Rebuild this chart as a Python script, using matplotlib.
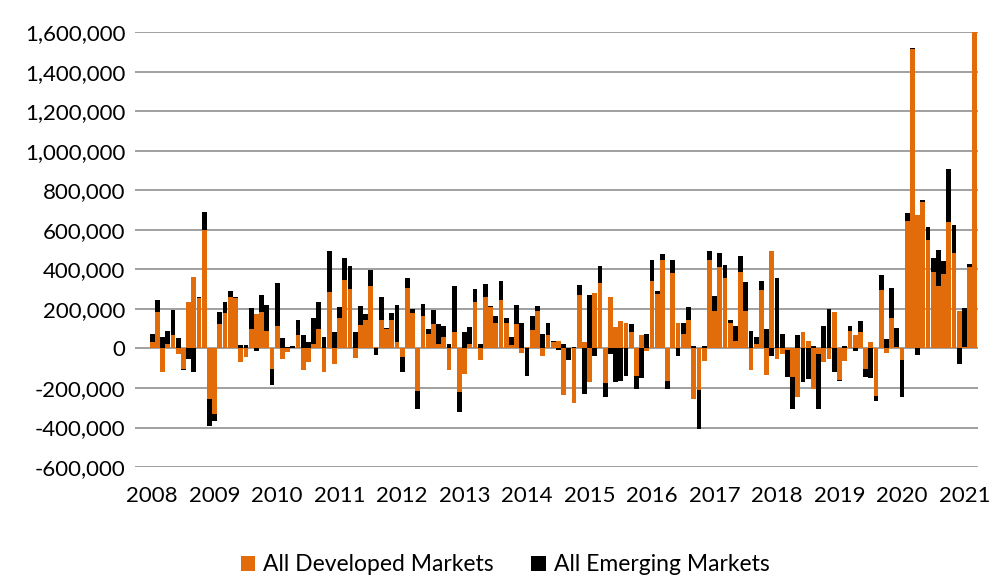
import numpy as np
import matplotlib
matplotlib.use('Agg')
import matplotlib.pyplot as plt
from matplotlib.ticker import FuncFormatter

# monthly flows, Jan 2008 .. Mar 2021 (thousands)
developed = [
    32, 184, -120, 24, 66, -27, -103, 235, 361, 255, 598, -255,
    -331, 125, 179, 260, 257, -69, -44, 100, 175, 184, 90, -103,
    113, -52, -18, 3, 66, -110, -70, 24, 100, -120, 285, -78,
    154, 345, 303, -47, 117, 142, 315, 5, 145, 100, 145, 32,
    -44, 307, 179, -213, 162, 74, 122, 24, 57, -111, 83, -221,
    -128, 24, 235, -56, 260, 209, 130, 243, 128, 20, 122, -22,
    5, 91, 192, -39, 66, 32, 40, -238, 0, -277, 273, 32,
    -170, 282, 331, -175, 260, 108, 138, 128, 83, -137, 66, -13,
    339, 277, 446, -167, 381, 128, 74, 145, -255, -209, -61, 446,
    192, 412, 356, 128, 37, 387, 192, -108, 24, 294, -133, 491,
    -52, -30, -10, -145, -246, 83, 40, -204, -30, -69, -52, 184,
    -159, -61, 88, 70, 83, -103, 34, -240, 297, -24, 154, 5,
    -57, 643, 1515, 673, 741, 547, 387, 316, 378, 640, 484, 192,
    5, 412, 1600]
emerging = [
    42, 59, 60, 64, 130, 55, -8, -52, -120, 5, 93, -135,
    -34, 59, 56, 30, 4, 15, 15, 105, -13, 84, 130, -84,
    218, 55, 8, 8, 80, 66, 35, 132, 135, 57, 206, 83,
    56, 113, 115, 83, 100, 34, 81, -35, 115, 5, 34, 186,
    -76, 49, 22, -93, 64, 22, 71, 98, 57, 24, 231, -98,
    83, 84, 68, 24, 64, 8, 32, 96, 27, 37, 96, 128,
    -137, 71, 25, 71, 62, 8, -7, 24, -60, 8, 49, -230,
    273, -39, 86, -71, -27, -170, -165, -140, 39, -68, -149, 74,
    111, 12, 30, -40, 69, -39, 54, 64, 10, -198, 10, 46,
    73, 71, 64, 17, 76, 79, 143, 88, 34, 46, 96, -40,
    356, 74, -135, -160, 66, -170, -154, 10, -275, 113, 201, -120,
    -8, 10, 25, -15, 54, -39, -149, -25, 73, 49, 152, 96,
    -189, 42, 7, -35, 12, 68, 73, 181, 64, 270, 143, -78,
    200, 14, 0]
years = list(range(2008, 2022))

dev = np.array(developed) * 1000
em = np.array(emerging) * 1000
x = np.arange(len(dev))

# excel-style stacking: positives stack up, negatives stack down
em_bottom = np.where(em >= 0, np.maximum(dev, 0), np.minimum(dev, 0))

plt.rcParams['font.family'] = ['Lato', 'DejaVu Sans']

fig = plt.figure(figsize=(10, 5.86), dpi=100)
ax = fig.add_axes([0.135, 0.203, 0.843, 0.742])

ax.bar(x, dev, width=0.92, color='#E36C0A', label='All Developed Markets', zorder=3)
ax.bar(x, em, bottom=em_bottom, width=0.92, color='black', label='All Emerging Markets', zorder=3)

ax.set_ylim(-600000, 1600000)
ax.set_yticks(np.arange(-600000, 1600001, 200000))
ax.yaxis.set_major_formatter(FuncFormatter(lambda v, p: f'{int(v):,}'))
ax.set_xlim(-3.3, 158.6)
ax.set_xticks(np.arange(len(years)) * 12)
ax.set_xticklabels([str(y) for y in years])

ax.grid(axis='y', color='#999999', linewidth=1.3, zorder=0)
for s in ax.spines.values():
    s.set_visible(False)
ax.tick_params(length=0, labelsize=16, colors='black')
ax.tick_params(axis='y', pad=7)
ax.tick_params(axis='x', pad=14)

fig.legend(loc='center', bbox_to_anchor=(0.505, 0.036), ncol=2, frameon=False,
           fontsize=16.5, handlelength=0.65, handleheight=0.65, handletextpad=0.35,
           columnspacing=1.6)

plt.savefig('out.png', dpi=100)
